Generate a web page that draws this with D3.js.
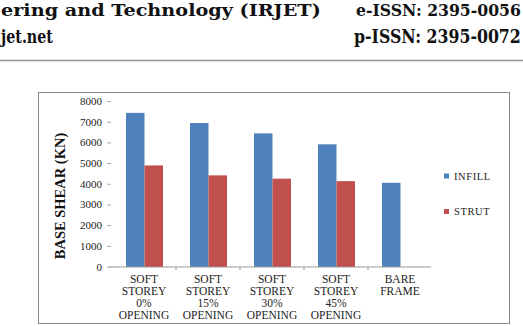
<!DOCTYPE html>
<html><head><meta charset="utf-8">
<script src="https://cdn.jsdelivr.net/npm/d3@7"></script>
<style>body{margin:0;background:#fff;}svg{display:block;}</style>
</head><body>
<script>
const categories = [
  ["SOFT","STOREY","0%","OPENING"],
  ["SOFT","STOREY","15%","OPENING"],
  ["SOFT","STOREY","30%","OPENING"],
  ["SOFT","STOREY","45%","OPENING"],
  ["BARE","FRAME"]
];
const seriesNames = ["INFILL","STRUT"];
const infill = [7450, 6960, 6460, 5930, 4070];
const strut = [4910, 4430, 4270, 4150, null];
const yTicks = [0,1000,2000,3000,4000,5000,6000,7000,8000];
const colors = ["#4F81BD","#C0504D"];

const W=523,H=326;
const svg=d3.select("body").append("svg").attr("width",W).attr("height",H);

// header: scale each text horizontally to fit its width
const hf="DejaVu Serif, serif";
function head(x,yb,len,txt,fs){
  const g=svg.append("g");
  const t=g.append("text").attr("x",0).attr("y",0).style("font-family",hf).attr("font-weight","bold")
    .attr("font-size",fs).attr("fill","#111").text(txt);
  const w=t.node().getComputedTextLength();
  g.attr("transform",`translate(${x},${yb}) scale(${len/w},1)`);
}
head(1,16,320,"ering and Technology (IRJET)",17.5);
head(356,16,165,"e-ISSN: 2395-0056",17.5);
head(1,42.5,52,"jet.net",18);
head(354,42.5,167,"p-ISSN: 2395-0072",18);
svg.append("line").attr("x1",0).attr("x2",W).attr("y1",60.5).attr("y2",60.5).attr("stroke","#999").attr("stroke-width",1.5);

// frame
svg.append("rect").attr("x",38.5).attr("y",92.5).attr("width",471).attr("height",231)
  .attr("fill","none").attr("stroke","#888").attr("stroke-width",1);

const x0=d3.scaleBand().domain(d3.range(categories.length)).range([112,432]);
const x1=d3.scaleBand().domain(seriesNames).range([14,51]);
const y=d3.scaleLinear().domain([0,8000]).range([267,101.5]);

const tf="Liberation Serif, Times New Roman, Times, serif";
// y ticks
const ya=svg.append("g");
yTicks.forEach(t=>{
  ya.append("text").attr("x",102).attr("y",y(t)+3.5).attr("text-anchor","end")
    .style("font-family",tf).attr("font-size",11).attr("fill","#222").text(t);
  ya.append("line").attr("x1",107).attr("x2",111).attr("y1",y(t)).attr("y2",y(t)).attr("stroke","#aaa");
});

// bars
const data=[infill,strut];
data.forEach((arr,si)=>{
  svg.append("g").selectAll("rect").data(arr.map((v,i)=>({v,i})).filter(d=>d.v!=null)).join("rect")
    .attr("x",d=>x0(d.i)+x1(seriesNames[si]))
    .attr("width",x1.bandwidth())
    .attr("y",d=>y(d.v))
    .attr("height",d=>y(0)-y(d.v))
    .attr("fill",colors[si]);
});

// x axis
svg.append("line").attr("x1",109).attr("x2",431).attr("y1",267).attr("y2",267).attr("stroke","#999");
d3.range(1,categories.length).forEach(i=>{
  svg.append("line").attr("x1",x0(i)).attr("x2",x0(i)).attr("y1",267).attr("y2",270).attr("stroke","#999");
});
categories.forEach((lines,i)=>{
  const t=svg.append("text").attr("text-anchor","middle").style("font-family",tf).attr("font-size",11.5).attr("fill","#222");
  lines.forEach((l,j)=>{
    t.append("tspan").attr("x",x0(i)+x0.bandwidth()/2).attr("y",283+j*12).text(l);
  });
});

// y title
svg.append("text").attr("transform","translate(65,196) rotate(-90)").attr("text-anchor","middle")
  .style("font-family",tf).attr("font-weight","bold").attr("font-size",14.5).attr("fill","#111")
  .text("BASE SHEAR (KN)");

// legend
seriesNames.forEach((s,i)=>{
  const ly=176+i*35.5;
  svg.append("rect").attr("x",444).attr("y",ly-2.5).attr("width",5).attr("height",5).attr("fill",colors[i]);
  svg.append("text").attr("x",454).attr("y",ly+3.5).style("font-family",tf).attr("font-size",10.5)
    .attr("letter-spacing",0.6).attr("fill","#222").text(s);
});
</script>
</body></html>
